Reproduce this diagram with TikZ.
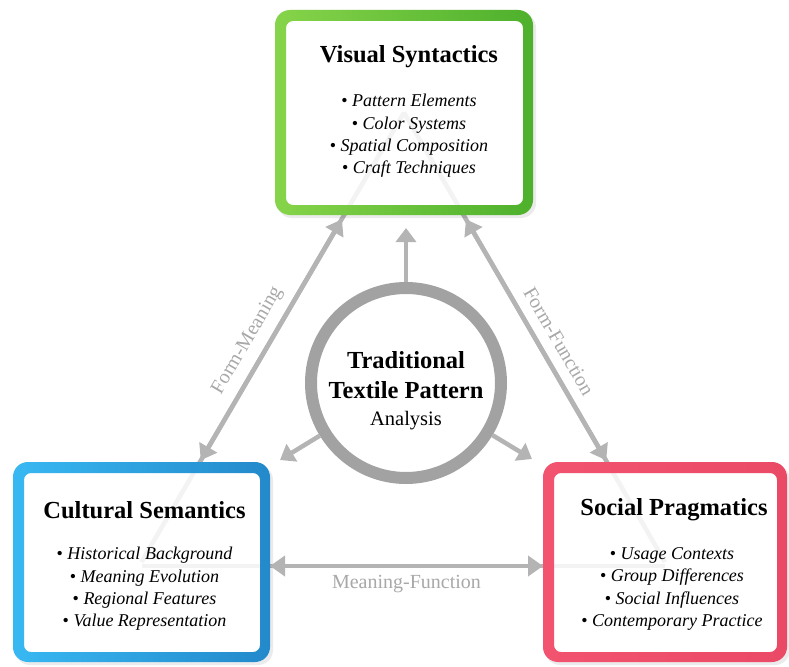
\documentclass[tikz,border=0pt]{standalone}
\usepackage{fontspec}
\setmainfont{Liberation Serif}
\usetikzlibrary{arrows.meta,calc,backgrounds}
\definecolor{greenL}{HTML}{86D44A}
\definecolor{greenD}{HTML}{4EB02C}
\definecolor{blueL}{HTML}{38B8F2}
\definecolor{blueD}{HTML}{2389CB}
\definecolor{redL}{HTML}{F2536F}
\definecolor{redD}{HTML}{EA4A66}
\definecolor{linegray}{HTML}{B4B4B4}
\definecolor{labelgray}{HTML}{A8A8A8}
\definecolor{ringgray}{HTML}{A2A2A2}
\begin{document}
\begin{tikzpicture}[x=1pt,y=-1pt,
  boxnode/.style={rectangle, inner sep=0pt, outer sep=0pt},
  ttl/.style={font=\fontsize{24.5}{28}\selectfont\bfseries, inner sep=0pt},
  items/.style={font=\fontsize{18}{22.3}\selectfont\itshape, align=center, inner sep=0pt},
  conn/.style={draw=linegray, line width=4.5pt, {Triangle[width=20pt,length=15pt]}-{Triangle[width=20pt,length=15pt]}},
  carrow/.style={draw=linegray, line width=4.5pt, -{Triangle[width=20pt,length=14pt]}},
  flabel/.style={text=labelgray, font=\fontsize{20}{23}\selectfont},
  ctext/.style={font=\fontsize{24.5}{28}\selectfont\bfseries, inner sep=0pt}
]
\useasboundingbox (0,0) rectangle (789,666);

% boxes
\node[boxnode, minimum width=258pt, minimum height=205pt] (vs) at (404,112.5) {};
\node[boxnode, minimum width=257pt, minimum height=200pt] (cs) at (141.5,562) {};
\node[boxnode, minimum width=244pt, minimum height=200pt] (sp) at (665,562) {};

% centre circle
\node[circle, draw=ringgray, line width=12pt, fill=white, minimum size=190pt, inner sep=0pt] (c) at (406,383) {};
\node[ctext] (c-t1) at (406,360) {Traditional};
\node[ctext] (c-t2) at (406,390) {Textile Pattern};
\node[font=\fontsize{20.5}{24}\selectfont, inner sep=0pt] (c-t3) at (406,421) {Analysis};

% texts in boxes
\node[ttl] (vs-t) at ($(vs.north)+(5,47)$) {Visual Syntactics};
\node[items] (vs-i) at ($(vs.north)+(5,126)$) {\textup{•} Pattern Elements\\\textup{•} Color Systems\\\textup{•} Spatial Composition\\\textup{•} Craft Techniques};
\node[ttl] (cs-t) at ($(cs.north)+(3,48)$) {Cultural Semantics};
\node[items] (cs-i) at ($(cs.north)+(3,127)$) {\textup{•} Historical Background\\\textup{•} Meaning Evolution\\\textup{•} Regional Features\\\textup{•} Value Representation};
\node[ttl] (sp-t) at ($(sp.north)+(9,48)$) {Social Pragmatics};
\node[items] (sp-i) at ($(sp.north)+(7,127)$) {\textup{•} Usage Contexts\\\textup{•} Group Differences\\\textup{•} Social Influences\\\textup{•} Contemporary Practice};

\begin{scope}[on background layer]
  % faint lines running under the boxes
  \draw[linegray, line width=4.5pt] (vs.center) -- (cs.center);
  \draw[linegray, line width=4.5pt] (vs.center) -- (sp.center);
  \draw[linegray, line width=4.5pt] ([yshift=-4pt]cs.center) -- ([yshift=-4pt]sp.center);
  % box frames
  \foreach \b/\cl/\cr in {vs/greenL/greenD, cs/blueL/blueD, sp/redL/redD}{
    \fill[black, opacity=0.08, even odd rule, rounded corners=15pt] ($(\b.north west)+(2,3)$) rectangle ($(\b.south east)+(3,3)$)
      (\b.north west) rectangle (\b.south east);
    \fill[white, fill opacity=0.85, rounded corners=7pt] ($(\b.north west)+(10,10)$) rectangle ($(\b.south east)+(-10,-10)$);
    \shade[left color=\cl, right color=\cr, even odd rule, rounded corners=15pt] (\b.north west) rectangle (\b.south east)
      [rounded corners=7pt] ($(\b.north west)+(11,11)$) rectangle ($(\b.south east)+(-10,-10)$);
  }
\end{scope}

% connectors between boxes
\draw[conn, shorten <=2pt, shorten >=5pt] (cs) -- node[flabel, sloped, above, pos=0.45, inner sep=9pt] (lfm) {Form-Meaning} (vs);
\draw[conn, shorten <=5pt, shorten >=2pt] (vs) -- node[flabel, sloped, above, pos=0.55, inner sep=10pt] (lff) {Form-Function} (sp);
\draw[conn] ([yshift=-4pt]cs.east) -- node[flabel, below, inner sep=7pt] (lmf) {Meaning-Function} ([yshift=-4pt]sp.west);

% arrows out of the centre
\coordinate (c-up) at ($(c.center)+(0,-155)$);
\coordinate (c-l) at ($(c.center)+(-126,77)$);
\coordinate (c-r) at ($(c.center)+(126,76)$);
\draw[carrow] (c) -- (c-up);
\draw[carrow] (c) -- (c-l);
\draw[carrow] (c) -- (c-r);
\end{tikzpicture}
\end{document}
